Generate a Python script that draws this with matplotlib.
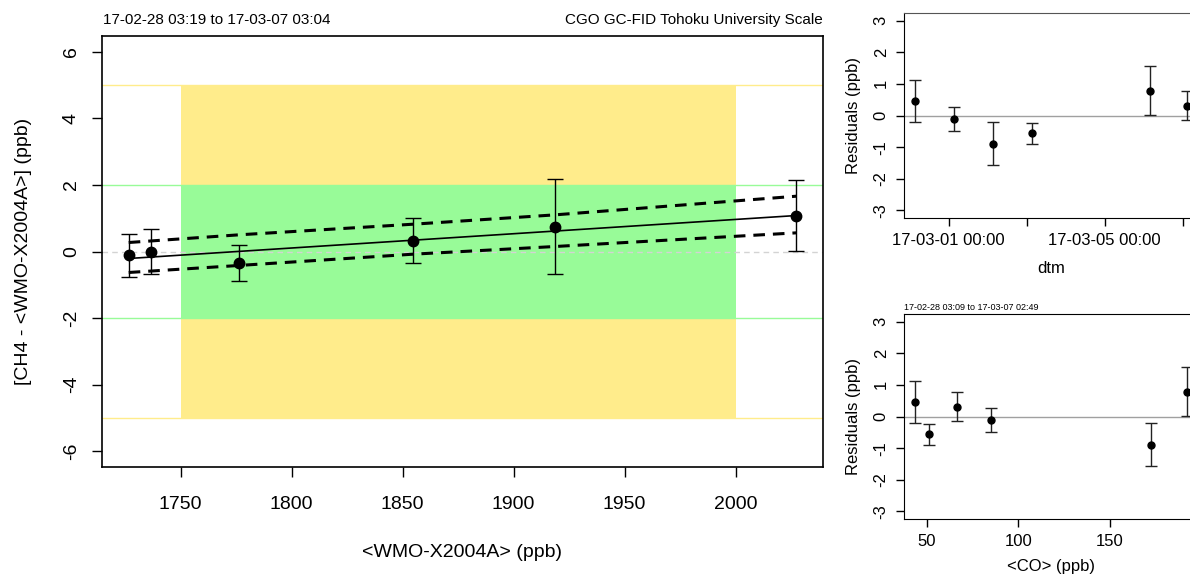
import matplotlib
matplotlib.use("Agg")
import matplotlib.pyplot as plt
import matplotlib.dates as mdates
import numpy as np
import pandas as pd

plt.rcParams['font.family'] = ['Liberation Sans', 'DejaVu Sans']
plt.rcParams['axes.unicode_minus'] = False

# ---------------- data ----------------
ref_x = [1726.6, 1736.5, 1776.1, 1854.8, 1918.6, 2027.3]
diff_y = [-0.12, -0.01, -0.35, 0.33, 0.75, 1.08]
diff_err = [0.64, 0.68, 0.55, 0.67, 1.43, 1.07]

fit_x = [1726.6, 2027.3]
fit_y = [-0.21, 1.08]

band_x = [1726.6, 1776.1, 1854.8, 1918.6, 2027.3]
band_upper = [0.27, 0.50, 0.82, 1.10, 1.66]
band_lower = [-0.63, -0.42, -0.08, 0.15, 0.56]

target_x = [1750, 2000]
yellow_y = [-5, 5]
green_y = [-2, 2]

res_time = ['2017-02-28 03:09', '2017-03-01 03:05', '2017-03-02 03:00',
            '2017-03-03 03:15', '2017-03-06 03:45', '2017-03-07 02:49']
res_val = [0.46, -0.12, -0.89, -0.56, 0.79, 0.31]
res_err = [0.65, 0.38, 0.68, 0.33, 0.76, 0.46]
co_val = [43.6, 85.2, 172.5, 51.1, 192.0, 66.4]

main_title_left = '17-02-28 03:19 to 17-03-07 03:04'
main_title_right = 'CGO GC-FID Tohoku University Scale'
co_title = '17-02-28 03:09 to 17-03-07 02:49'

yellow = '#FFEC8B'
green = '#98FB98'

W, H = 1190, 574
fig = plt.figure(figsize=(W / 100, H / 100), dpi=100)

def px_axes(l, r, t, b):
    return fig.add_axes([l / W, 1 - b / H, (r - l) / W, (b - t) / H])

def pad_range(vals, f=0.04):
    lo, hi = min(vals), max(vals)
    d = (hi - lo) * f
    return lo - d, hi + d

# ---------------- main panel ----------------
ax = px_axes(102, 823, 36, 467)
ax.set_xlim(*pad_range(ref_x))
ax.set_ylim(-6.47, 6.47)
ax.fill_between(target_x, yellow_y[0], yellow_y[1], color=yellow, lw=0, zorder=0)
ax.fill_between(target_x, green_y[0], green_y[1], color=green, lw=0, zorder=0.5)
for v in yellow_y:
    ax.axhline(v, color=yellow, lw=1, zorder=0.6)
for v in green_y:
    ax.axhline(v, color=green, lw=1, zorder=0.6)
ax.axhline(0, color='#D3D3D3', lw=1, ls=(0, (4, 3)), zorder=0.7)

ax.plot(fit_x, fit_y, color='black', lw=1.2, zorder=2)
ax.plot(band_x, band_upper, color='black', lw=2.2, ls=(0, (3.8, 2.6)), zorder=2)
ax.plot(band_x, band_lower, color='black', lw=2.2, ls=(0, (3.8, 2.6)), zorder=2)
ax.errorbar(ref_x, diff_y, yerr=diff_err, fmt='o', color='black', ms=7.5,
            ecolor='black', elinewidth=1, capsize=6, capthick=1, zorder=3)

ax.set_xticks([1750, 1800, 1850, 1900, 1950, 2000])
ax.set_yticks([-6, -4, -2, 0, 2, 4, 6])
ax.tick_params(axis='x', direction='out', length=7, width=1, labelsize=14, pad=14)
ax.tick_params(axis='y', direction='out', length=7, width=1, labelsize=14, pad=9,
               labelrotation=90)
for lab in ax.get_yticklabels():
    lab.set_verticalalignment('center')
for s in ax.spines.values():
    s.set_linewidth(1.2)
ax.set_xlabel('<WMO-X2004A> (ppb)', fontsize=14, labelpad=22)
ax.set_ylabel('[CH4 - <WMO-X2004A>] (ppb)', fontsize=14, labelpad=22)
fig.text(103 / W, 1 - 20 / H, main_title_left, fontsize=11, ha='left', va='center')
fig.text(823 / W, 1 - 20 / H, main_title_right, fontsize=11, ha='right', va='center')

# ---------------- residuals vs time ----------------
ax2 = px_axes(904, 1198, 13, 218)
t = pd.to_datetime(res_time)
tn = mdates.date2num(t)
ax2.set_xlim(*pad_range(list(tn)))
ax2.set_ylim(-3.24, 3.24)
ax2.axhline(0, color='#A0A0A0', lw=1, zorder=0)
ax2.errorbar(t, res_val, yerr=res_err, fmt='o', color='black', ms=5,
             ecolor='#222222', elinewidth=1, capsize=4, capthick=1, zorder=3)
tick_days = pd.to_datetime(['2017-03-01', '2017-03-03', '2017-03-05', '2017-03-07'])
ax2.set_xticks(mdates.date2num(tick_days))
ax2.set_xticklabels(['17-03-01 00:00', '', '17-03-05 00:00', ''])
ax2.set_yticks([-3, -2, -1, 0, 1, 2, 3])
ax2.tick_params(axis='x', direction='out', length=6, width=1, labelsize=12, pad=5)
ax2.tick_params(axis='y', direction='out', length=6, width=1, labelsize=12, pad=5,
                labelrotation=90)
for lab in ax2.get_yticklabels():
    lab.set_verticalalignment('center')
ax2.set_xlabel('dtm', fontsize=12, labelpad=9)
ax2.set_ylabel('Residuals (ppb)', fontsize=12, labelpad=9)
ax2.spines['top'].set_color('#555555')

# ---------------- residuals vs CO ----------------
ax3 = px_axes(904, 1198, 314, 519)
ax3.set_xlim(*pad_range(co_val))
ax3.set_ylim(-3.24, 3.24)
ax3.axhline(0, color='#A0A0A0', lw=1, zorder=0)
ax3.errorbar(co_val, res_val, yerr=res_err, fmt='o', color='black', ms=5,
             ecolor='#222222', elinewidth=1, capsize=4, capthick=1, zorder=3)
ax3.set_xticks([50, 100, 150])
ax3.set_yticks([-3, -2, -1, 0, 1, 2, 3])
ax3.tick_params(axis='x', direction='out', length=6, width=1, labelsize=12, pad=5)
ax3.tick_params(axis='y', direction='out', length=6, width=1, labelsize=12, pad=5,
                labelrotation=90)
for lab in ax3.get_yticklabels():
    lab.set_verticalalignment('center')
ax3.set_xlabel('<CO> (ppb)', fontsize=12, labelpad=7)
ax3.set_ylabel('Residuals (ppb)', fontsize=12, labelpad=9)
fig.text(904 / W, 1 - 307 / H, co_title, fontsize=6.5, ha='left', va='center')

fig.savefig('out.png', dpi=100)
